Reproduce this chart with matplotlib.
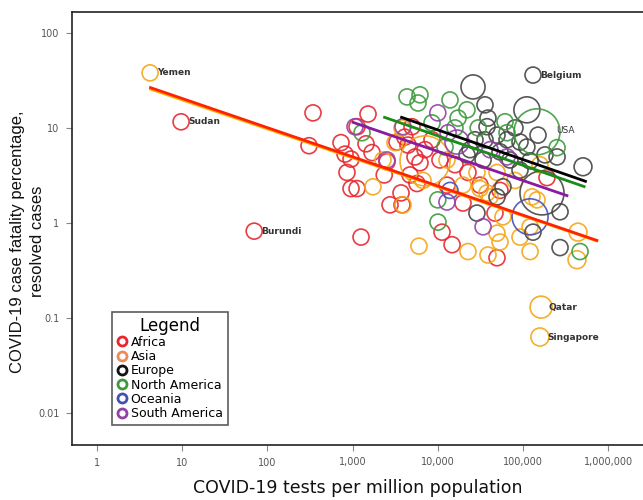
import numpy as np
import matplotlib
matplotlib.use("Agg")
import matplotlib.pyplot as plt
from matplotlib.lines import Line2D
from matplotlib.ticker import FixedLocator, NullLocator

# tests per million, case fatality %, population (millions) per continent
africa_tests = [9.7, 70, 343, 308, 731, 815, 958, 859, 958, 1127, 1256, 1517, 1127, 1437,
                3320, 4470, 2535, 4720, 5700, 6180, 2750, 3800, 3700, 4980, 5400, 10600,
                11200, 14700, 22600, 19750, 46900, 49500, 12800, 191000, 7080, 15900,
                31300, 53700, 1690, 2350, 8550, 4100]
africa_cfr = [11.6, 0.82, 14.4, 6.5, 7.0, 5.3, 4.7, 3.4, 2.3, 2.3, 0.71, 14.0, 10.3, 6.8,
              7.1, 6.6, 4.4, 3.2, 2.6, 4.3, 1.55, 1.55, 2.07, 10.3, 4.95, 4.6,
              0.80, 0.59, 3.4, 1.62, 1.27, 0.43, 2.5, 3.0, 5.9, 4.1,
              2.5, 2.2, 5.5, 3.2, 7.5, 8.0]
africa_pop = [13] * len(africa_tests)

asia_tests = [4.2, 1735, 2275, 3145, 3905, 6010, 3800, 7080, 22600, 38800, 53700, 121000,
              442000, 430000, 31300, 37800, 49500, 92200, 127600, 28800, 49500, 41000,
              58200, 121000, 146000, 163000, 158000, 6700, 19750, 80500, 158000, 12800]
asia_cfr = [38, 2.4, 4.6, 7.0, 1.55, 0.57, 10, 4.5, 0.50, 0.46, 0.63, 0.50,
            0.80, 0.41, 2.3, 2.07, 0.78, 0.71, 1.88, 3.4, 3.4, 1.88,
            1.16, 0.91, 1.75, 0.13, 0.063, 2.8, 2.5, 2.8, 4.1, 4.6]
asia_pop = [13, 13, 13, 13, 13, 13, 13, 1230, 13, 13, 13, 13,
            20, 20, 13, 13, 13, 13, 13, 13, 13, 13,
            13, 13, 13, 46, 21, 13, 13, 13, 13, 13]

europe_tests = [131000, 25900, 35800, 38800, 37800, 111000, 150000, 49500, 64900, 92200,
                111000, 27300, 23900, 53700, 34000, 70300, 92200, 181000, 251000, 506000,
                272000, 28800, 49500, 58200, 131000, 272000, 167000, 35800, 22000, 80500,
                121000]
europe_cfr = [36, 27, 17.5, 12.7, 10.3, 15.5, 8.4, 8.4, 7.5, 7.1,
              6.3, 7.5, 5.9, 5.6, 4.6, 4.6, 3.6, 5.2, 4.95, 3.9,
              0.55, 1.27, 1.88, 2.4, 0.80, 1.31, 2.07, 7.5, 5.2, 10,
              4.5]
europe_pop = [13, 66, 13, 13, 13, 90, 13, 13, 13, 13,
              13, 13, 13, 13, 13, 13, 13, 13, 13, 20,
              13, 13, 13, 13, 13, 13, 740, 13, 13, 13,
              13]

namerica_tests = [146000, 4350, 6180, 5860, 13900, 22000, 17300, 1290, 8550, 10000,
                  10050, 467000, 251000, 12150, 64900, 29800, 15900, 61500]
namerica_cfr = [9.1, 21.2, 22.3, 18.3, 19.7, 15.5, 12.7, 8.9, 11.3, 1.75,
                1.02, 0.50, 6.2, 6.3, 8.9, 10, 10, 11.6]
namerica_pop = [880] + [13] * 17

oceania_tests = [121000, 13900]
oceania_cfr = [1.16, 2.2]
oceania_pop = [330, 13]

samerica_tests = [1067, 3905, 10000, 2535, 12800, 34000, 16800, 64900, 13200, 41000]
samerica_cfr = [10.3, 10.3, 14.4, 4.6, 1.66, 0.91, 7.1, 4.95, 8.9, 5.9]
samerica_pop = [13, 13, 13, 13, 13, 13, 66, 13, 13, 13]

# fitted lines: log10(cfr) = a + b*log10(tests), over the drawn range
fit_lines = {
    "Asia": (1.600, -0.305, 4.1, 760000),
    "Africa": (1.617, -0.307, 4.1, 760000),
    "South America": (1.981, -0.307, 980, 340000),
    "North America": (2.161, -0.311, 2290, 540000),
    "Europe": (2.227, -0.312, 3630, 560000),
}

labelled = [("Yemen", 4.2, 38), ("Sudan", 9.7, 11.6), ("Burundi", 70, 0.82),
            ("Belgium", 131000, 36), ("Qatar", 163000, 0.13), ("Singapore", 158000, 0.063)]

continents = ["Africa", "Asia", "Europe", "North America", "Oceania", "South America"]
point_colors = {"Africa": "#e8262e", "Asia": "#f5a516", "Europe": "#454545",
                "North America": "#3c9a3c", "Oceania": "#4450b8", "South America": "#9340a8"}
legend_colors = {"Africa": "#e8262e", "Asia": "#f08a55", "Europe": "#111111",
                 "North America": "#3c9a3c", "Oceania": "#4450b8", "South America": "#9340a8"}
line_colors = {"Africa": "#ff2200", "Asia": "#ffae00", "Europe": "#000000",
               "North America": "#1a8c1a", "South America": "#8a1aa0"}

data = {
    "Africa": (africa_tests, africa_cfr, africa_pop),
    "Asia": (asia_tests, asia_cfr, asia_pop),
    "Europe": (europe_tests, europe_cfr, europe_pop),
    "North America": (namerica_tests, namerica_cfr, namerica_pop),
    "Oceania": (oceania_tests, oceania_cfr, oceania_pop),
    "South America": (samerica_tests, samerica_cfr, samerica_pop),
}


def marker_area(pop):
    r_px = 7.5 * (np.asarray(pop) / 10.0) ** 0.25
    return (2 * r_px * 0.72) ** 2


fig = plt.figure(figsize=(6.43, 5.0), dpi=100)
ax = fig.add_axes([72 / 643, 55 / 500, 1 - 72 / 643, 433 / 500])
ax.set_xscale("log")
ax.set_yscale("log")
ax.set_xlim(0.509, 2.56e6)
ax.set_ylim(0.0046, 166)

for c in continents:
    t, f, p = data[c]
    ax.scatter(t, f, s=marker_area(p), facecolors="none", edgecolors=point_colors[c],
               linewidths=1.2, alpha=0.9, zorder=2)

# USA label sits next to the big circle
ax.annotate("USA", (146000, 9.1), xytext=(14, 1), textcoords="offset points",
            fontsize=6.5, color="#333333", va="center", zorder=5)
for name, t, f in labelled:
    ax.annotate(name, (t, f), xytext=(5, 0), textcoords="offset points",
                fontsize=6.5, fontweight="bold", color="#333333", va="center", zorder=5)

for c, (a, b, x0, x1) in fit_lines.items():
    xs = np.array([x0, x1])
    ys = 10 ** (a + b * np.log10(xs))
    ax.plot(xs, ys, color=line_colors[c], lw=2.0, zorder=3, solid_capstyle="butt")

ax.spines["right"].set_visible(False)
for s in ["left", "top", "bottom"]:
    ax.spines[s].set_linewidth(1.2)
    ax.spines[s].set_color("#222222")

xt = [1, 10, 100, 1000, 10000, 100000, 1000000]
ax.xaxis.set_major_locator(FixedLocator(xt))
ax.set_xticklabels([f"{v:,}" for v in xt])
yt = [0.01, 0.1, 1, 10, 100]
ax.yaxis.set_major_locator(FixedLocator(yt))
ax.set_yticklabels(["0.01", "0.1", "1", "10", "100"])
ax.xaxis.set_minor_locator(NullLocator())
ax.yaxis.set_minor_locator(NullLocator())
ax.tick_params(axis="both", which="major", labelsize=7, labelcolor="#555555",
               color="#888888", length=4, width=0.8, pad=5)

ax.set_xlabel("COVID-19 tests per million population", fontsize=12.5, labelpad=8,
              color="#111111")
ax.set_ylabel("COVID-19 case fatality percentage,\nresolved cases", fontsize=12,
              family="Liberation Sans", color="#111111", linespacing=1.35)
ax.yaxis.set_label_coords(-0.048, 0.47)

handles = [Line2D([], [], marker="o", ls="none", markersize=6.5, markerfacecolor="none",
                  markeredgecolor=legend_colors[c], markeredgewidth=2.0) for c in continents]
leg = ax.legend(handles, continents, title="Legend", loc="lower left",
                bbox_to_anchor=(0.07, 0.046), borderaxespad=0, fontsize=9,
                title_fontsize=12, frameon=True, fancybox=False, handlelength=0.8,
                handletextpad=0.3, labelspacing=0.1, borderpad=0.4)
leg.get_frame().set_edgecolor("#333333")
leg.get_frame().set_linewidth(1.2)

fig.savefig("out.png", dpi=100)
